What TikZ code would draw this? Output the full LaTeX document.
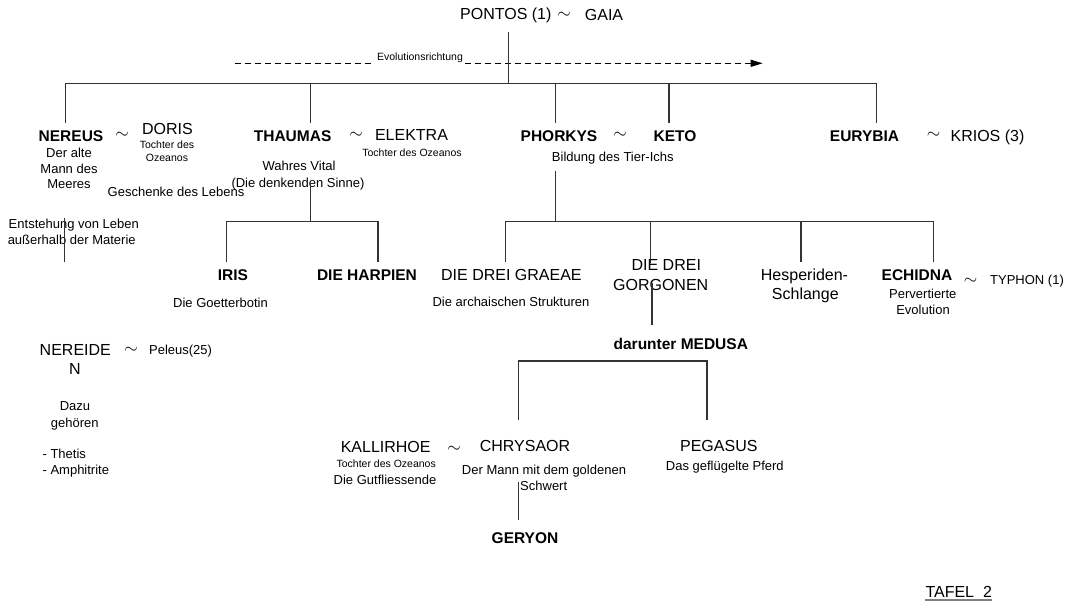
\documentclass[tikz,border=0pt]{standalone}
\usepackage{fontspec}
\setmainfont{Liberation Sans}
\usetikzlibrary{arrows.meta}
\begin{document}
\begin{tikzpicture}[x=1pt,y=-1pt,
  every node/.style={inner sep=0pt, anchor=base},
  big/.style={font=\fontsize{16}{19}\selectfont, yshift=-5.8pt},
  bold/.style={font=\fontsize{15.5}{19}\selectfont\bfseries, yshift=-5.6pt},
  med/.style={font=\fontsize{13}{15}\selectfont, yshift=-4.7pt},
  tiny/.style={font=\fontsize{10.5}{12}\selectfont, yshift=-3.8pt},
  tld/.style={font=\fontsize{19}{21}\selectfont, yshift=-4.8pt},
  conn/.style={draw=black!80, line width=1.3pt},
]
\fill[white] (0,0) rectangle (1073,610);
\useasboundingbox (0,0) rectangle (1073,610);

% ---- top ----
\node[big] (pontos) at (505.8,13.5) {PONTOS (1)};
\node[tld] (t0) at (564,14) {$\sim$};
\node[big] (gaia) at (604,14.5) {GAIA};

\coordinate (p0) at (508.5,32);
\coordinate (p1) at (508.5,83.3);
\coordinate (evoA) at (235,63.3);
\coordinate (evoB) at (762.7,63.3);
\draw[conn, draw=black, dash pattern=on 6pt off 4pt, -{Triangle[length=12pt,width=7pt]}] (evoA) -- (evoB);
\node[tiny, fill=white, inner xsep=2pt, inner ysep=2pt] (evo) at (420,57) {Evolutionsrichtung};

\coordinate (barL) at (65.4,83.3);
\coordinate (barR) at (876.3,83.3);
\coordinate (bT) at (310.6,83.3);
\coordinate (bP) at (555.6,83.3);
\coordinate (bK) at (668.9,83.3);
\coordinate (dN) at (65.4,123.3);
\coordinate (dT) at (310.6,123.3);
\coordinate (dP) at (555.6,123.3);
\coordinate (dK) at (668.9,123.3);
\coordinate (dE) at (876.3,123.3);
\draw[conn] (p0) -- (p1);
\draw[conn] (barL) -- (barR);
\draw[conn] (barL) -- (dN);
\draw[conn] (bT) -- (dT);
\draw[conn] (bP) -- (dP);
\draw[conn] (bK) -- (dK);
\draw[conn] (barR) -- (dE);

% ---- NEREUS ----
\node[bold] (nereus) at (71,136) {NEREUS};
\node[tld] (t1) at (122,133.3) {$\sim$};
\node[big] (doris) at (167.5,129) {DORIS};
\node[tiny] (doris1) at (167,145) {Tochter des};
\node[tiny] (doris2) at (167,157.7) {Ozeanos};
\node[med] (ner1) at (69,152.7) {Der alte};
\node[med] (ner2) at (69,168.3) {Mann des};
\node[med] (ner3) at (69,183.3) {Meeres};
\node[med] (gesch) at (176,191.7) {Geschenke des Lebens};
\node[med] (ent1) at (73.8,224) {Entstehung von Leben};
\node[med] (ent2) at (71.7,240) {außerhalb der Materie};
\coordinate (nl0) at (64.3,218);
\coordinate (nl1) at (64.3,261.7);
\draw[conn] (nl0) -- (nl1);

\node[big] (nereiden1) at (75.3,350) {NEREIDE};
\node[big] (nereiden2) at (75,369) {N};
\node[tld] (t2) at (131,348.3) {$\sim$};
\node[med] (peleus) at (180.6,350) {Peleus(25)};
\node[med] (dazu1) at (75,406) {Dazu};
\node[med] (dazu2) at (74.7,422.7) {gehören};
\node[med, anchor=base west] (thetis) at (42.4,454) {- Thetis};
\node[med, anchor=base west] (amph) at (42.4,470) {- Amphitrite};

% ---- THAUMAS ----
\node[bold] (thaumas) at (292.6,136) {THAUMAS};
\node[tld] (t3) at (356,133.3) {$\sim$};
\node[big] (elektra) at (411.5,135) {ELEKTRA};
\node[tiny] (elektra1) at (412,152.3) {Tochter des Ozeanos};
\node[med] (wv1) at (299,166) {Wahres Vital};
\node[med] (wv2) at (298,182.7) {(Die denkenden Sinne)};
\coordinate (th0) at (310.6,183.3);
\coordinate (th1) at (310.6,221.7);
\coordinate (thL) at (226.6,221.7);
\coordinate (thR) at (378.1,221.7);
\coordinate (thLd) at (226.6,261.7);
\coordinate (thRd) at (378.1,261.7);
\draw[conn] (th0) -- (th1);
\draw[conn] (thLd) -- (thL) -- (thR) -- (thRd);
\node[bold] (iris) at (233,275) {IRIS};
\node[med] (iris1) at (220.5,302.3) {Die Goetterbotin};
\node[bold] (harpien) at (367,275) {DIE HARPIEN};

% ---- PHORKYS ----
\node[bold] (phorkys) at (559,136) {PHORKYS};
\node[tld] (t4) at (620,133.3) {$\sim$};
\node[bold] (keto) at (675,136) {KETO};
\node[med] (bild) at (612.8,156.7) {Bildung des Tier-Ichs};
\coordinate (ph0) at (555.6,171);
\coordinate (ph1) at (555.6,221.7);
\coordinate (phL) at (505.6,221.7);
\coordinate (phR) at (933.4,221.7);
\coordinate (phG) at (650.2,221.7);
\coordinate (phH) at (801.1,221.7);
\coordinate (phLd) at (505.6,261.7);
\coordinate (phGd) at (650.2,263.3);
\coordinate (phHd) at (801.1,261.7);
\coordinate (phRd) at (933.4,261.7);
\draw[conn] (ph0) -- (ph1);
\draw[conn] (phLd) -- (phL) -- (phR) -- (phRd);
\draw[conn] (phG) -- (phGd);
\draw[conn] (phH) -- (phHd);

\node[big] (graeae) at (511.4,275) {DIE DREI GRAEAE};
\node[med] (graeae1) at (511,301.7) {Die archaischen Strukturen};
\node[big] (gorg1) at (666.3,265) {DIE DREI};
\node[big] (gorg2) at (660.7,284.3) {GORGONEN};
\node[big] (hesp1) at (804.5,275) {Hesperiden-};
\node[big] (hesp2) at (805.3,294) {Schlange};
\node[bold] (echidna) at (917,275) {ECHIDNA};
\node[med] (ech1) at (922.8,293.3) {Pervertierte};
\node[med] (ech2) at (923,309.3) {Evolution};
\node[tld] (t5) at (970.5,280) {$\sim$};
\node[med] (typhon) at (1027,280) {TYPHON (1)};

% ---- EURYBIA ----
\node[bold] (eurybia) at (864.5,136) {EURYBIA};
\node[tld] (t6) at (933.5,133.3) {$\sim$};
\node[big] (krios) at (987.5,136) {KRIOS (3)};

% ---- MEDUSA ----
\coordinate (go0) at (651.9,283.3);
\coordinate (go1) at (651.9,325);
\draw[conn] (go0) -- (go1);
\node[bold] (medusa) at (680.8,344) {darunter MEDUSA};
\coordinate (mL) at (518.3,361);
\coordinate (mR) at (707,361);
\coordinate (mLd) at (518.3,420);
\coordinate (mRd) at (707,420);
\draw[conn] (mLd) -- (mL) -- (mR) -- (mRd);

\node[big] (kall) at (385.7,446.7) {KALLIRHOE};
\node[tiny] (kall1) at (386.2,463.3) {Tochter des Ozeanos};
\node[med] (kall2) at (385,479.3) {Die Gutfliessende};
\node[tld] (t7) at (454,447.7) {$\sim$};
\node[big] (chrys) at (525,445.7) {CHRYSAOR};
\node[med] (chrys1) at (544,469.3) {Der Mann mit dem goldenen};
\node[med] (chrys2) at (543.7,485.7) {Schwert};
\coordinate (ge0) at (518.3,481.7);
\coordinate (ge1) at (518.3,520);
\draw[conn] (ge0) -- (ge1);
\node[bold] (geryon) at (525,538.3) {GERYON};

\node[big] (pegasus) at (718.8,445.7) {PEGASUS};
\node[med] (peg1) at (724.8,465.7) {Das geflügelte Pferd};

% ---- TAFEL ----
\node[big] (tafel) at (958.7,592) {TAFEL\ \ 2};
\draw[draw=black!50, line width=2pt] ([yshift=-2.5pt]tafel.base west) -- ([yshift=-2.5pt]tafel.base east);
\end{tikzpicture}
\end{document}
